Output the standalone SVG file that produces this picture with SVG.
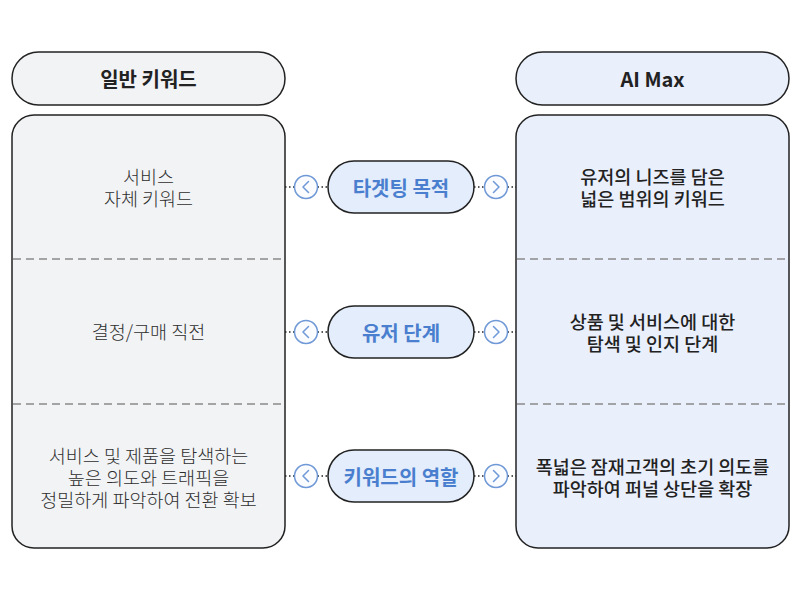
<svg xmlns="http://www.w3.org/2000/svg" width="800" height="598" viewBox="0 0 800 598">
<style>
.hdrL{fill:#f2f3f5;stroke:#222;stroke-width:1.5}
.hdrR{fill:#e9effb;stroke:#222;stroke-width:1.5}
.div{stroke:#8a8a8a;stroke-width:1.5;stroke-dasharray:8 5;fill:none}
.pill{fill:#e4edfb;stroke:#222;stroke-width:1.5}
.circ{fill:#fafcff;stroke:#6f98d6;stroke-width:1.5}
.chev{fill:none;stroke:#6f98d6;stroke-width:1.5;stroke-linecap:round;stroke-linejoin:round}
.dot{stroke:#222;stroke-width:1.5;stroke-dasharray:1.5 2.5;fill:none}
text{font-family:"Noto Sans CJK KR","Noto Sans",sans-serif;text-anchor:middle;dominant-baseline:central}
.h{font-size:20px;font-weight:700;fill:#222}
.pl{font-size:20px;font-weight:700;fill:#4a7fcf}
.tl{font-size:18.5px;font-weight:300;fill:#2e2e2e}
.tr{font-size:18.5px;font-weight:500;fill:#222}
</style>
<g id="left-header"><rect class="hdrL" x="12" y="52" width="273" height="53" rx="26.5"/><text class="h" x="148.5" y="78.5">일반 키워드</text></g>
<g id="right-header"><rect class="hdrR" x="516" y="52" width="273" height="53" rx="26.5"/><text class="h" x="652.5" y="78.5">AI Max</text></g>
<g id="left-body">
<rect class="hdrL" x="12" y="115" width="273" height="433" rx="22"/>
<line class="div" x1="13" y1="259" x2="284" y2="259"/>
<line class="div" x1="13" y1="404" x2="284" y2="404"/>
<text class="tl" x="148.5" y="176"><tspan x="148.5" y="176">서비스</tspan><tspan x="148.5" y="198">자체 키워드</tspan></text>
<text class="tl" x="148.5" y="331">결정/구매 직전</text>
<text class="tl" x="148.5" y="455"><tspan x="148.5" y="455">서비스 및 제품을 탐색하는</tspan><tspan x="148.5" y="477">높은 의도와 트래픽을</tspan><tspan x="148.5" y="499">정밀하게 파악하여 전환 확보</tspan></text>
</g>
<g id="right-body">
<rect class="hdrR" x="516" y="115" width="273" height="433" rx="22"/>
<line class="div" x1="517" y1="259" x2="788" y2="259"/>
<line class="div" x1="517" y1="404" x2="788" y2="404"/>
<text class="tr" x="652.5" y="176"><tspan x="652.5" y="176">유저의 니즈를 담은</tspan><tspan x="652.5" y="198">넓은 범위의 키워드</tspan></text>
<text class="tr" x="652.5" y="321"><tspan x="652.5" y="321">상품 및 서비스에 대한</tspan><tspan x="652.5" y="343">탐색 및 인지 단계</tspan></text>
<text class="tr" x="652.5" y="466"><tspan x="652.5" y="466">폭넓은 잠재고객의 초기 의도를</tspan><tspan x="652.5" y="488">파악하여 퍼널 상단을 확장</tspan></text>
</g>
<g id="connectors">
<path class="dot" d="M285 187H294.5M317.5 187H328M474 187H484.5M507.5 187H516"/>
<path class="dot" d="M285 332H294.5M317.5 332H328M474 332H484.5M507.5 332H516"/>
<path class="dot" d="M285 476H294.5M317.5 476H328M474 476H484.5M507.5 476H516"/>
<circle class="circ" cx="306" cy="187" r="11.5"/><path class="chev" d="M308.5 181.5L303 187L308.5 192.5"/>
<circle class="circ" cx="496" cy="187" r="11.5"/><path class="chev" d="M493.5 181.5L499 187L493.5 192.5"/>
<circle class="circ" cx="306" cy="332" r="11.5"/><path class="chev" d="M308.5 326.5L303 332L308.5 337.5"/>
<circle class="circ" cx="496" cy="332" r="11.5"/><path class="chev" d="M493.5 326.5L499 332L493.5 337.5"/>
<circle class="circ" cx="306" cy="476" r="11.5"/><path class="chev" d="M308.5 470.5L303 476L308.5 481.5"/>
<circle class="circ" cx="496" cy="476" r="11.5"/><path class="chev" d="M493.5 470.5L499 476L493.5 481.5"/>
</g>
<g id="pill-targeting"><rect class="pill" x="328" y="161" width="146" height="52" rx="26"/><text class="pl" x="401" y="187">타겟팅 목적</text></g>
<g id="pill-stage"><rect class="pill" x="328" y="306" width="146" height="52" rx="26"/><text class="pl" x="401" y="332">유저 단계</text></g>
<g id="pill-role"><rect class="pill" x="328" y="450" width="146" height="52" rx="26"/><text class="pl" x="401" y="476">키워드의 역할</text></g>
</svg>
